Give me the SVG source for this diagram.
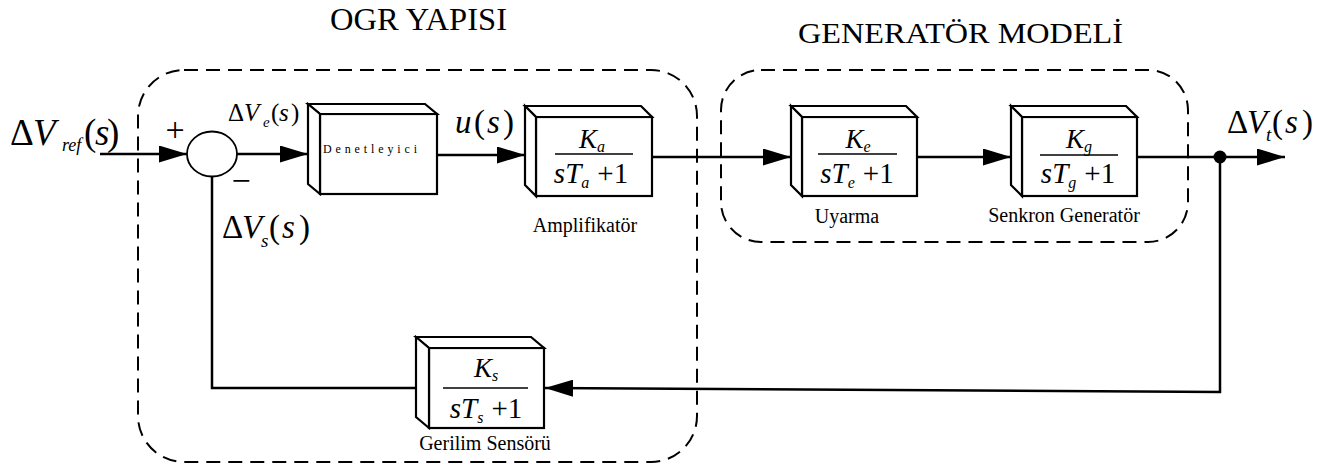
<svg xmlns="http://www.w3.org/2000/svg" width="1327" height="466" viewBox="0 0 1327 466">
<style>
.blk{fill:#fff;stroke:#000;stroke-width:2.2;stroke-linejoin:miter}
.wire{fill:none;stroke:#000;stroke-width:2.5}
.dash{fill:none;stroke:#000;stroke-width:2;stroke-dasharray:14 8}
.t{fill:#000}
.i{font-style:italic}
.frac{stroke:#000;stroke-width:1.5}
.num{font-size:27px}
.den{font-size:29px}
.lbl{font-size:20px}
</style>
<defs>
<marker id="arr" markerUnits="userSpaceOnUse" markerWidth="28" markerHeight="17" refX="28" refY="8.5" orient="auto">
<path d="M0,0 L28,8.5 L0,17 Z" fill="#000"/>
</marker>
</defs>
<rect width="1327" height="466" fill="#fff"/>
<g font-family="'Liberation Serif', 'DejaVu Serif', serif">

<g id="group-ogr">
<rect class="dash" x="138" y="70" width="559" height="392" rx="46" ry="46"/>
<text class="t" x="330" y="30" font-size="31" textLength="177" lengthAdjust="spacingAndGlyphs">OGR YAPISI</text>
</g>
<g id="group-generator">
<rect class="dash" x="721" y="70" width="467" height="172" rx="40" ry="40"/>
<text class="t" x="798" y="43" font-size="29.5" textLength="325" lengthAdjust="spacingAndGlyphs">GENERATÖR MODELİ</text>
</g>

<g id="connectors">
<line class="wire" x1="100" y1="154" x2="187" y2="154" marker-end="url(#arr)"/>
<line class="wire" x1="237" y1="154" x2="308" y2="154" marker-end="url(#arr)"/>
<line class="wire" x1="437" y1="155" x2="525" y2="155" marker-end="url(#arr)"/>
<line class="wire" x1="652" y1="157" x2="791" y2="157" marker-end="url(#arr)"/>
<line class="wire" x1="917" y1="157" x2="1011" y2="157" marker-end="url(#arr)"/>
<line class="wire" x1="1137" y1="157" x2="1285" y2="157" marker-end="url(#arr)"/>
<polyline class="wire" points="1220,157 1220,392 545,388" marker-end="url(#arr)"/>
<polyline class="wire" points="416,388 212,388 212,177"/>
<circle cx="1220" cy="157" r="6.5" fill="#000"/>
</g>

<g id="sum">
<ellipse cx="212" cy="154" rx="25" ry="22.5" fill="#fff" stroke="#000" stroke-width="1.8"/>
<text class="t" x="175" y="141" font-size="34" text-anchor="middle">+</text>
<text class="t" x="241" y="192" font-size="34" text-anchor="middle">−</text>
</g>

<g id="denetleyici">
<rect class="blk" x="320" y="114" width="117" height="80"/>
<polygon class="blk" points="308,104 425,104 437,114 320,114"/>
<polygon class="blk" points="308,104 320,114 320,194 308,184"/>
<text class="t" x="323" y="153" font-size="12" textLength="94" lengthAdjust="spacing">Denetleyici</text>
</g>

<g id="amplifikator">
<rect class="blk" x="536" y="117" width="116" height="79"/>
<polygon class="blk" points="525,106 641,106 652,117 536,117"/>
<polygon class="blk" points="525,106 536,117 536,196 525,185"/>
<text class="t num" x="592" y="148" text-anchor="middle"><tspan class="i">K</tspan><tspan class="i" font-size="16" dy="4">a</tspan></text>
<line class="frac" x1="555" y1="154" x2="633" y2="154"/>
<text class="t den" x="591" y="183" text-anchor="middle"><tspan class="i">sT</tspan><tspan class="i" font-size="16" dy="5">a</tspan><tspan dy="-5" dx="8">+1</tspan></text>
<text class="t lbl" x="585" y="232" text-anchor="middle">Amplifikatör</text>
</g>

<g id="uyarma">
<rect class="blk" x="802" y="117" width="115" height="79"/>
<polygon class="blk" points="791,106 906,106 917,117 802,117"/>
<polygon class="blk" points="791,106 802,117 802,196 791,185"/>
<text class="t num" x="858" y="148" text-anchor="middle"><tspan class="i">K</tspan><tspan class="i" font-size="16" dy="4">e</tspan></text>
<line class="frac" x1="818" y1="154" x2="897" y2="154"/>
<text class="t den" x="857" y="183" text-anchor="middle"><tspan class="i">sT</tspan><tspan class="i" font-size="16" dy="5">e</tspan><tspan dy="-5" dx="8">+1</tspan></text>
<text class="t lbl" x="847" y="223" text-anchor="middle">Uyarma</text>
</g>

<g id="senkron">
<rect class="blk" x="1022" y="117" width="115" height="79"/>
<polygon class="blk" points="1011,106 1126,106 1137,117 1022,117"/>
<polygon class="blk" points="1011,106 1022,117 1022,196 1011,185"/>
<text class="t num" x="1079" y="148" text-anchor="middle"><tspan class="i">K</tspan><tspan class="i" font-size="16" dy="4">g</tspan></text>
<line class="frac" x1="1040" y1="155" x2="1118" y2="155"/>
<text class="t den" x="1078" y="183" text-anchor="middle"><tspan class="i">sT</tspan><tspan class="i" font-size="16" dy="5">g</tspan><tspan dy="-5" dx="8">+1</tspan></text>
<text class="t lbl" x="1064" y="222" text-anchor="middle">Senkron Generatör</text>
</g>

<g id="gerilim">
<rect class="blk" x="429" y="348" width="115" height="80"/>
<polygon class="blk" points="416,337 531,337 544,348 429,348"/>
<polygon class="blk" points="416,337 429,348 429,428 416,417"/>
<text class="t num" x="486" y="377" text-anchor="middle"><tspan class="i">K</tspan><tspan class="i" font-size="16" dy="4">s</tspan></text>
<line class="frac" x1="443" y1="388" x2="528" y2="388"/>
<text class="t den" x="486" y="418" text-anchor="middle"><tspan class="i">sT</tspan><tspan class="i" font-size="16" dy="5">s</tspan><tspan dy="-5" dx="8">+1</tspan></text>
<text class="t lbl" x="485" y="450" text-anchor="middle">Gerilim Sensörü</text>
</g>

<g id="signal-labels">
<g id="lbl-vref" class="t">
<text x="10" y="145" font-size="37">Δ</text>
<text class="i" x="33" y="145" font-size="37">V</text>
<text class="i" x="62" y="151" font-size="18">ref</text>
<text x="84" y="145" font-size="37">(</text>
<text class="i" x="95" y="145" font-size="37">s</text>
<text x="107" y="145" font-size="37">)</text>
</g>
<g id="lbl-ve" class="t">
<text x="228" y="121" font-size="25">Δ</text>
<text class="i" x="244" y="121" font-size="25">V</text>
<text class="i" x="263" y="127" font-size="15">e</text>
<text x="271" y="121" font-size="25">(</text>
<text class="i" x="279" y="121" font-size="25">s</text>
<text x="291" y="121" font-size="25">)</text>
</g>
<g id="lbl-vs" class="t">
<text x="222" y="238" font-size="33">Δ</text>
<text class="i" x="242" y="238" font-size="33">V</text>
<text class="i" x="261" y="247" font-size="19">s</text>
<text x="269" y="238" font-size="33">(</text>
<text class="i" x="282" y="238" font-size="33">s</text>
<text x="299" y="238" font-size="33">)</text>
</g>
<g id="lbl-u" class="t">
<text class="i" x="455" y="133" font-size="33">u</text>
<text x="474" y="133" font-size="33">(</text>
<text class="i" x="487" y="133" font-size="33">s</text>
<text x="503" y="133" font-size="33">)</text>
</g>
<g id="lbl-vt" class="t">
<text x="1227" y="133" font-size="33">Δ</text>
<text class="i" x="1247" y="133" font-size="33">V</text>
<text class="i" x="1266" y="141" font-size="19">t</text>
<text x="1272" y="133" font-size="33">(</text>
<text class="i" x="1285" y="133" font-size="33">s</text>
<text x="1302" y="133" font-size="33">)</text>
</g>
</g>
</g>
</svg>
